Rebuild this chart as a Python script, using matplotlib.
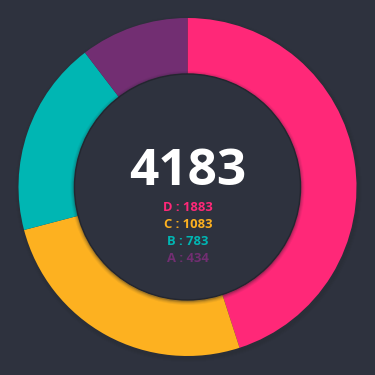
import matplotlib
matplotlib.use("Agg")
import matplotlib.pyplot as plt
from matplotlib.patches import Circle

labels = ["D", "C", "B", "A"]
values = [1883, 1083, 783, 434]
colors = ["#FF2878", "#FDB120", "#00B6B3", "#722E72"]
total_label = "4183"

bg = "#2E323E"
fig = plt.figure(figsize=(3.75, 3.75), dpi=100, facecolor=bg)
ax = fig.add_axes([0, 0, 1, 1])
ax.set_facecolor(bg)

cx, cy = 0.0, 0.5
R_out, R_in = 169, 113

# soft outer shadow
for i, a in enumerate([0.05, 0.05, 0.05, 0.05]):
    ax.add_patch(Circle((cx + 1, cy - 2), R_out + 4 - i, color="#1c1f27", alpha=a, lw=0, zorder=0))

wedges, _ = ax.pie(values, colors=colors, startangle=90, counterclock=False,
                   radius=R_out, center=(cx, cy),
                   wedgeprops=dict(width=R_out - R_in, linewidth=0), frame=True)
ax.set_xlim(-187.5, 187.5)
ax.set_ylim(-187.5, 187.5)
ax.set_aspect("equal")
ax.axis("off")

# inner circle shadow
for i, a in enumerate([0.06, 0.08, 0.12, 0.2]):
    ax.add_patch(Circle((cx, cy - 1), R_in + 4 - i, color="#1c1f27", alpha=a, lw=0, zorder=3))
ax.add_patch(Circle((cx, cy), R_in, facecolor=bg, edgecolor="#23262f", lw=1.0, zorder=4))

font = ["Open Sans", "DejaVu Sans"]
ax.text(cx + 0.5, 187.5 - 185, total_label, ha="center", va="baseline", color="white",
        fontsize=37, fontweight="bold", family=font, zorder=5)

baselines = [211, 228, 245, 262]
for lab, val, col, b in zip(labels, values, colors, baselines):
    ax.text(cx + 0.5, 187.5 - b, f"{lab} : {val}", ha="center", va="baseline", color=col,
            fontsize=9.4, fontweight="bold", family=font, zorder=5)

fig.savefig("out.png", dpi=100, facecolor=bg)
